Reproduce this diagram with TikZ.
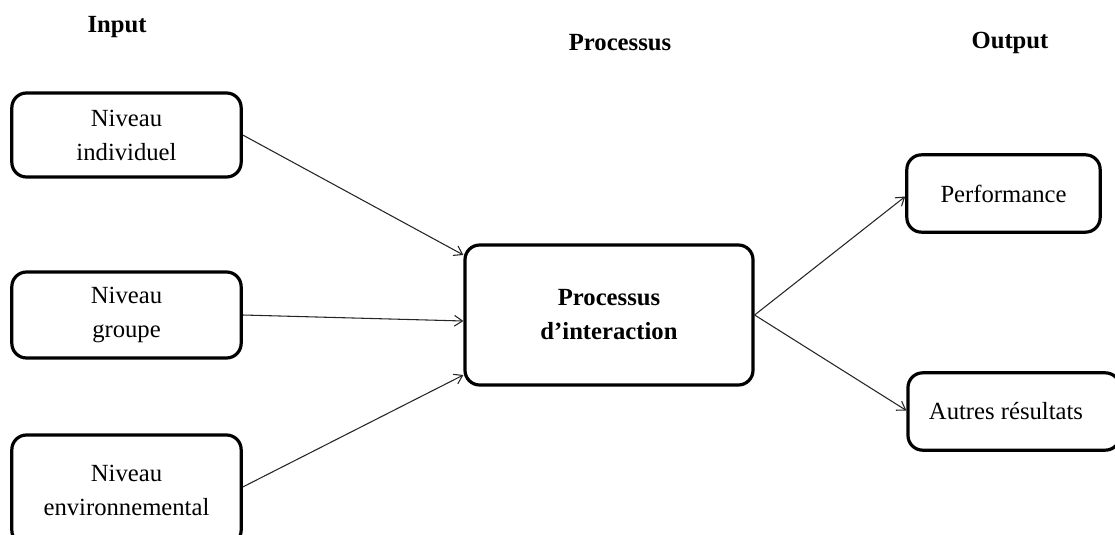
\documentclass[tikz,border=0pt]{standalone}
\usepackage{fontspec}
\setmainfont{Liberation Serif}
\usetikzlibrary{arrows.meta,calc}
\tikzset{
  box/.style={draw=black, line width=2.4pt, rounded corners=11pt, fill=white,
    align=center, inner sep=0pt, font=\fontsize{18.5}{25.5}\selectfont},
  hdr/.style={font=\fontsize{18.5}{20}\selectfont\bfseries},
  arr/.style={-{Straight Barb[length=6pt,width=8pt]}, line width=0.8pt, draw=black!85}
}
\begin{document}
\begin{tikzpicture}[x=0.75pt,y=-0.75pt]
\useasboundingbox (0,0) rectangle (1115,535);
\clip (0,0) rectangle (1115,535);
\node[hdr] (hin) at (117,27) {Input};
\node[hdr] (hpr) at (620,43) {Processus};
\node[hdr] (hout) at (1010,43) {Output};
\node[box, minimum width=172pt, minimum height=63pt] (b1) at (126.5,135) {Niveau\\individuel};
\node[box, minimum width=172pt, minimum height=64.5pt] (b2) at (126.5,315) {Niveau\\groupe};
\node[box, minimum width=172pt, minimum height=82.5pt] (b3) at (126.5,490) {Niveau\\environnemental};
\node[box, minimum width=216pt, minimum height=105pt, font=\fontsize{18.5}{25.5}\selectfont\bfseries] (c) at (609,315) {Processus\\d’interaction};
\node[box, minimum width=145pt, minimum height=58pt] (p) at (1003.5,193.5) {Performance};
\node[box, minimum width=159pt, minimum height=58pt] (a) at (1014,411.5) {\hspace*{-12pt}Autres résultats};
\draw[arr] (b1.east) -- ($(c.west)+(0,-60)$);
\draw[arr] (b2.east) -- ($(c.west)+(0,6)$);
\draw[arr] ($(b3.east)+(0,-3)$) -- ($(c.west)+(0,60)$);
\draw[arr] (c.east) -- ($(p.west)+(0,3)$);
\draw[arr] (c.east) -- ($(a.west)+(0,-1)$);
\end{tikzpicture}
\end{document}
